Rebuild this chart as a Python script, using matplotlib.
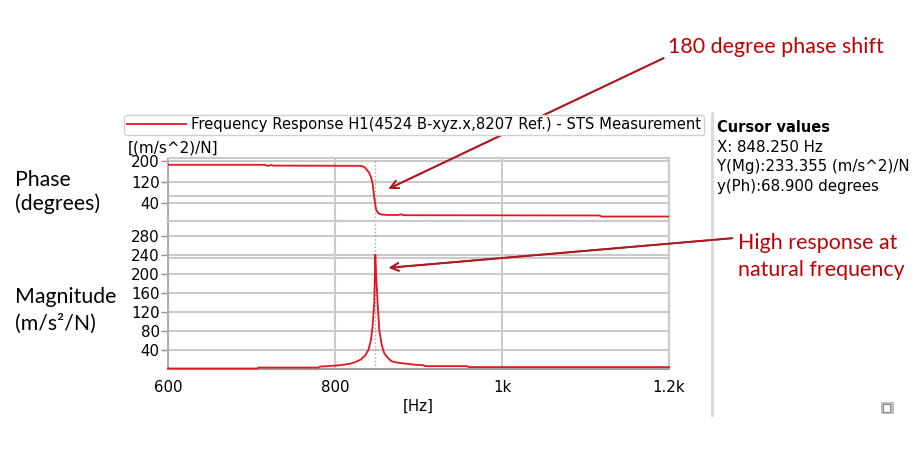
import matplotlib
matplotlib.use('Agg')
import matplotlib.pyplot as plt
from matplotlib.lines import Line2D
from matplotlib.patches import Rectangle

# phase trace
ph_f = [600, 716, 718, 720, 722, 724, 726, 831, 835, 838, 841, 843, 845, 846, 847,
        848, 849, 850, 852, 855, 863, 876, 878, 880, 882, 1117, 1119, 1200]
phase = [186, 186, 183, 182, 184, 185, 183, 182, 178, 168, 155, 140, 115, 90, 62,
         39, 20, 10, 2, -3, -5, -5, -3, -3, -6, -7, -11, -11]

# magnitude trace
mag_f = [600, 707, 708, 780, 782, 800, 810, 818, 825, 831, 836, 840, 843, 845, 847,
         848.25, 849.5, 851, 853, 856, 859, 864, 868, 876, 886, 896, 906, 908, 958, 960, 1200]
mag = [1, 1, 3, 3, 5, 7, 9, 11, 15, 20, 28, 40, 60, 89, 139,
       240, 190, 140, 82, 50, 33, 22, 16, 13, 11, 9, 8, 6, 6, 4, 4]

x_ticks = [600, 800, 1000, 1200]
x_labels = ['600', '800', '1k', '1.2k']
ph_ticks = [40, 120, 200]
mag_ticks = [40, 80, 120, 160, 200, 240, 280]

cursor_x = 848.25
cursor_mag = 233.355
cursor_ph = 68.9

W, H = 919, 449
RED = '#e8141c'
DRED = '#c00000'
GRID = '#cacaca'


def box(x0, y0, x1, y1):
    # pixel box (top-left origin) -> figure fraction rect
    return [x0 / W, 1 - y1 / H, (x1 - x0) / W, (y1 - y0) / H]


fig = plt.figure(figsize=(W / 100, H / 100), dpi=100)

ax_ph = fig.add_axes(box(168, 158, 669, 221))
ax_mg = fig.add_axes(box(168, 221, 669, 369))

for ax in (ax_ph, ax_mg):
    ax.set_xlim(600, 1200)
    ax.set_xticks(x_ticks)
    ax.grid(True, color=GRID, lw=1.5)
    ax.set_axisbelow(True)
    ax.axvline(cursor_x, color='#a0a0a0', lw=1, ls=':')
    for s in ax.spines.values():
        s.set_color(GRID)
        s.set_linewidth(1.5)
    ax.spines['left'].set_color('#b0b0b0')
    ax.tick_params(axis='y', length=5, width=1, color='#909090', labelsize=10.8, pad=1)
    ax.tick_params(axis='x', length=0, labelsize=10.8, pad=8)

ax_ph.plot(ph_f, phase, color=RED, lw=1.3, zorder=3)
ax_ph.set_ylim(-28, 212)
ax_ph.set_yticks(ph_ticks)
ax_ph.axhline(cursor_ph, color=GRID, lw=1.5)
ax_ph.tick_params(axis='x', labelbottom=False)
ax_ph.spines['bottom'].set_color('#a8a8a8')

ax_mg.plot(mag_f, mag, color=RED, lw=1.3, zorder=3, clip_on=False)
ax_mg.set_ylim(0, 311)
ax_mg.set_yticks(mag_ticks)
ax_mg.axhline(cursor_mag, color=GRID, lw=1.5)
ax_mg.set_xticks(x_ticks, x_labels)
ax_mg.spines['bottom'].set_color('#a0a0a0')
ax_mg.set_xlabel('[Hz]', fontsize=10.8, labelpad=3)

fig.text(128 / W, 1 - 148 / H, '[(m/s^2)/N]', fontsize=11, va='center')

leg = fig.legend([Line2D([], [], color=RED, lw=1.3)],
                 ['Frequency Response H1(4524 B-xyz.x,8207 Ref.) - STS Measurement'],
                 loc='center left', bbox_to_anchor=(124 / W, 1 - 125 / H),
                 fontsize=10.6, handlelength=4.0, handletextpad=0.35,
                 borderpad=0.2, borderaxespad=0, fancybox=True, framealpha=1)
leg.get_frame().set_edgecolor('#d0d0d0')

# cursor panel
fig.add_artist(Line2D([712 / W, 712 / W], [1 - 113 / H, 1 - 415 / H],
                      color='#d8d8d8', lw=2))
fig.text(717 / W, 1 - 127 / H, 'Cursor values', fontsize=10.5, weight='bold', va='center')
fig.text(717 / W, 1 - 147 / H, 'X: 848.250 Hz', fontsize=10.8, va='center')
fig.text(717 / W, 1 - 167 / H, 'Y(Mg):233.355 (m/s^2)/N', fontsize=10.8, va='center')
fig.text(717 / W, 1 - 186 / H, 'y(Ph):68.900 degrees', fontsize=10.8, va='center')

# small icon bottom right
fig.add_artist(Rectangle((881 / W, 1 - 414 / H), 13 / W, 12 / H,
                         transform=fig.transFigure, fc='#bdbdbd', ec='none'))
fig.add_artist(Rectangle((883 / W, 1 - 412 / H), 7 / W, 8 / H,
                         transform=fig.transFigure, fc='white', ec='#8a8a8a', lw=0.8))

# side labels
lab = dict(fontsize=15.3, family=['Lato', 'DejaVu Sans'], va='center', ha='left')
fig.text(15 / W, 1 - 180 / H, 'Phase', **lab)
fig.text(15 / W, 1 - 204 / H, '(degrees)', **lab)
fig.text(15 / W, 1 - 297 / H, 'Magnitude', **lab)
fig.text(15 / W, 1 - 324 / H, '(m/s\u00b2/N)', **lab)

# red annotations
ann = dict(fontsize=15.4, family='Lato', color=DRED, va='center', ha='left')
fig.text(668 / W, 1 - 47 / H, '180 degree phase shift', **ann)
fig.text(738 / W, 1 - 243 / H, 'High response at', **ann)
fig.text(738 / W, 1 - 270 / H, 'natural frequency', **ann)

arrow = dict(arrowstyle='->', color='#b01820', lw=1.3, mutation_scale=14)
fig.add_artist(plt.annotate('', xy=(386, H - 190), xytext=(666, H - 57),
                            xycoords='figure pixels', textcoords='figure pixels',
                            arrowprops=arrow))
fig.add_artist(plt.annotate('', xy=(386, H - 268), xytext=(735, H - 238),
                            xycoords='figure pixels', textcoords='figure pixels',
                            arrowprops=arrow))

plt.savefig('out.png', dpi=100)
